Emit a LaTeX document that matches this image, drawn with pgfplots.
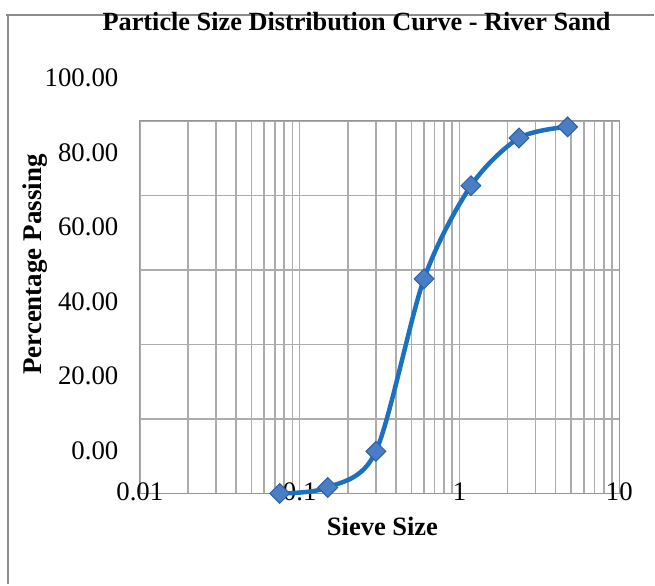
\documentclass[border=0pt]{standalone}
\usepackage{pgfplots}
\pgfplotsset{compat=1.18}
\usepackage{fontspec}
\setmainfont{Liberation Serif}
\definecolor{gridgray}{RGB}{172,172,172}
\definecolor{axgray}{RGB}{150,150,150}
\definecolor{lineblue}{RGB}{28,112,192}
\definecolor{markfill}{RGB}{74,126,196}
\definecolor{markdraw}{RGB}{45,95,165}
\definecolor{bordergray}{RGB}{140,140,140}
\begin{document}
\begin{tikzpicture}
\path (0pt,0pt) rectangle (655pt,585pt);
\draw[bordergray, line width=1.5pt] (6pt,570pt) -- (655pt,570pt);
\draw[bordergray, line width=2.5pt] (8pt,570pt) -- (8pt,0pt);
\begin{axis}[
  at={(140pt,91pt)}, anchor=south west,
  width=480pt, height=373pt, scale only axis,
  xmode=log, xmin=0.01, xmax=10, ymin=0, ymax=100,
  log basis x=10,
  xtick={0.01,0.1,1,10}, xticklabels={0.01,0.1,1,10},
  minor xtick={0.02,0.03,0.04,0.05,0.06,0.07,0.08,0.09,0.2,0.3,0.4,0.5,0.6,0.7,0.8,0.9,2,3,4,5,6,7,8,9},
  ytick={0,20,40,60,80,100},
  yticklabels={0.00,20.00,40.00,60.00,80.00,100.00},
  grid=both,
  major grid style={draw=gridgray, line width=1.5pt},
  minor grid style={draw=gridgray, line width=1.5pt},
  axis line style={axgray, line width=1.2pt},
  tick pos=left, tick align=inside, major tick length=8pt, minor tick length=0pt,
  tick style={gridgray, line width=1.2pt},
  tick label style={font=\fontsize{26.8}{26.8}\selectfont},
  yticklabel style={anchor=east, xshift=-18pt, yshift=43pt},
  xticklabel style={anchor=center, yshift=2pt},
  clip=false,
  title={\textbf{Particle Size Distribution Curve - River Sand}},
  title style={at={(axis description cs:0.452,1.25)}, anchor=center, font=\fontsize{26.3}{26.3}\selectfont},
  xlabel={\textbf{Sieve Size}},
  xlabel style={at={(axis description cs:0.506,-0.088)}, anchor=center, font=\fontsize{26.5}{26.5}\selectfont},
  ylabel={\textbf{Percentage Passing}},
  ylabel style={at={(axis description cs:-0.219,0.614)}, anchor=center, rotate=0, font=\fontsize{27}{27}\selectfont},
]
\addplot[lineblue, line width=4.5pt, smooth,
  mark=square*, mark size=7pt,
  mark options={rotate=45, fill=markfill, draw=markdraw, line width=1pt}]
  coordinates {
  (0.075,0) (0.15,1.6) (0.3,11.3) (0.6,57.6) (1.18,82.6) (2.36,95.4) (4.75,98.4)
  };
\end{axis}
\end{tikzpicture}
\end{document}
